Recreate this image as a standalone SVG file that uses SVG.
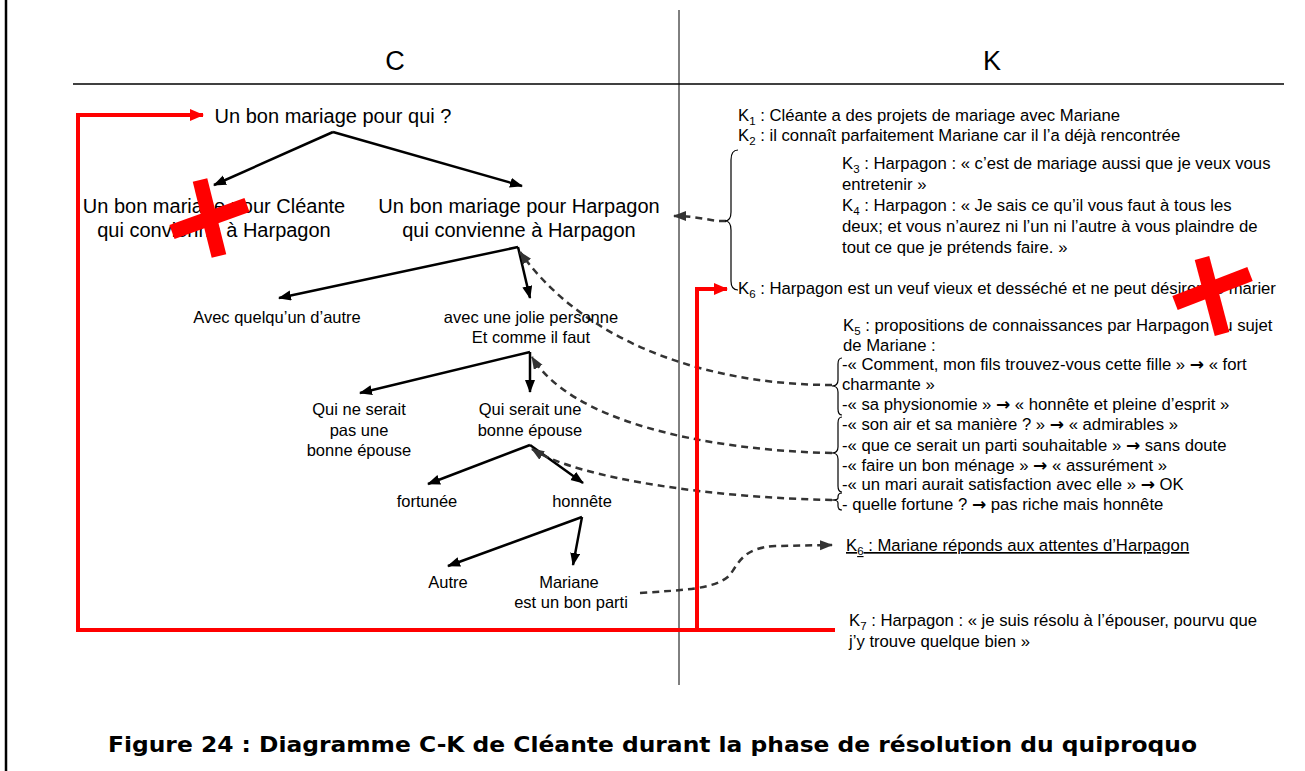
<svg xmlns="http://www.w3.org/2000/svg" width="1305" height="771" viewBox="0 0 1305 771">
<style>
  .t20{font-family:"Liberation Sans",Arial,sans-serif;font-size:20px;fill:#000}
  .t16{font-family:"Liberation Sans",Arial,sans-serif;font-size:16.5px;fill:#000}
  .k{font-family:"Liberation Sans",Arial,sans-serif;font-size:16.7px;fill:#000}
  .sub{font-size:11.5px}
  .ar{font-family:"DejaVu Sans",sans-serif;font-size:17px;font-weight:bold}
  .hdr{font-family:"Liberation Sans",Arial,sans-serif;font-size:27px;fill:#000}
  .arr{stroke:#000;stroke-width:2.5;fill:none;marker-end:url(#ab)}
  .dash{stroke:#333;stroke-width:2.5;fill:none;stroke-dasharray:7 5;marker-end:url(#ad)}
  .red{stroke:#ff0000;stroke-width:4;fill:none}
  .brace{stroke:#000;stroke-width:1.2;fill:none}
  .xbar{stroke:#ff0000;stroke-width:15;stroke-linecap:butt}
</style>
<defs>
  <marker id="ab" markerUnits="userSpaceOnUse" markerWidth="13" markerHeight="11" refX="12" refY="5" orient="auto"><path d="M0,0 L13,5 L0,10 z" fill="#000"/></marker>
  <marker id="ad" markerUnits="userSpaceOnUse" markerWidth="13" markerHeight="11" refX="12" refY="5" orient="auto"><path d="M0,0 L13,5 L0,10 z" fill="#333"/></marker>
  <marker id="ar" markerUnits="userSpaceOnUse" markerWidth="14" markerHeight="12" refX="13" refY="6" orient="auto"><path d="M0,0 L14,6 L0,12 z" fill="#ff0000"/></marker>
</defs>
<rect width="1305" height="771" fill="#fff"/>
<line x1="6" y1="0" x2="6" y2="771" stroke="#000" stroke-width="2.5"/>
<line x1="73" y1="84" x2="1284" y2="84" stroke="#000" stroke-width="1.5"/>
<line x1="679" y1="10" x2="679" y2="685" stroke="#000" stroke-width="1"/>
<text class="hdr" x="395" y="70" text-anchor="middle">C</text>
<text class="hdr" x="992" y="70" text-anchor="middle">K</text>

<g id="connectors">
  <path class="arr" d="M333,132 L214,185"/>
  <path class="arr" d="M333,132 L522,186"/>
  <path class="arr" d="M518,247 L279,298"/>
  <path class="arr" d="M518,247 L530,298"/>
  <path class="arr" d="M530,352 L360,393"/>
  <path class="arr" d="M530,352 L530,392"/>
  <path class="arr" d="M530,445 L428,484"/>
  <path class="arr" d="M530,445 L583,483"/>
  <path class="arr" d="M582,517 L448,566"/>
  <path class="arr" d="M582,517 L573,565"/>
  <path class="dash" d="M726,221 C712,222 700,216 674,216"/>
  <path class="dash" d="M832,385 C720,385 590,350 520,252"/>
  <path class="dash" d="M832,453 C700,450 570,420 532,357"/>
  <path class="dash" d="M832,500 C720,498 580,480 532,449"/>
  <path class="dash" d="M640,593 C680,590 715,590 730,575 C740,560 745,548 775,546 L832,545"/>
  <path class="red" d="M697,630 L697,289 L727,289" marker-end="url(#ar)"/>
  <path class="red" d="M835,630 L78,630 L78,115 L203,115" marker-end="url(#ar)"/>
  <path class="brace" d="M738,150 Q731,150 731,160 L731,212 Q731,221 725,221 Q731,221 731,230 L731,281 Q731,290 738,290"/>
  <path class="brace" d="M842,358 Q838,358 838,364 L838,380 Q838,386 832,386 Q838,386 838,392 L838,409 Q838,415 842,415"/>
  <path class="brace" d="M842,417 Q838,417 838,423 L838,447 Q838,453 832,453 Q838,453 838,459 L838,486 Q838,492 842,492"/>
  <path class="brace" d="M842,493 Q838,493 838,497 L838,498 Q838,500 832,500 Q838,500 838,503 L838,506 Q838,510 842,510"/>
</g>

<g id="n-root"><text class="t20" x="333" y="123" text-anchor="middle">Un bon mariage pour qui ?</text></g>
<g id="n-cleante"><text class="t20" x="214" y="213" text-anchor="middle">Un bon mariage pour Cléante</text><text class="t20" x="214" y="237" text-anchor="middle">qui convienne à Harpagon</text></g>
<g id="n-harpagon"><text class="t20" x="519" y="213" text-anchor="middle">Un bon mariage pour Harpagon</text><text class="t20" x="519" y="237" text-anchor="middle">qui convienne à Harpagon</text></g>
<g id="n-autre1"><text class="t16" x="277" y="323" text-anchor="middle">Avec quelqu’un d’autre</text></g>
<g id="n-jolie"><text class="t16" x="531" y="323" text-anchor="middle">avec une jolie personne</text><text class="t16" x="531" y="343" text-anchor="middle">Et comme il faut</text></g>
<g id="n-pasbonne"><text class="t16" x="359" y="415" text-anchor="middle">Qui ne serait</text><text class="t16" x="359" y="436" text-anchor="middle">pas une</text><text class="t16" x="359" y="456" text-anchor="middle">bonne épouse</text></g>
<g id="n-bonne"><text class="t16" x="530" y="415" text-anchor="middle">Qui serait une</text><text class="t16" x="530" y="436" text-anchor="middle">bonne épouse</text></g>
<g id="n-fortunee"><text class="t16" x="427" y="507" text-anchor="middle">fortunée</text></g>
<g id="n-honnete"><text class="t16" x="582" y="507" text-anchor="middle">honnête</text></g>
<g id="n-autre2"><text class="t16" x="448" y="588" text-anchor="middle">Autre</text></g>
<g id="n-mariane"><text class="t16" x="569" y="588" text-anchor="middle">Mariane</text><text class="t16" x="571" y="608" text-anchor="middle">est un bon parti</text></g>

<g id="k1"><text class="k" x="738" y="121">K<tspan class="sub" dy="4">1</tspan><tspan dy="-4"> : Cléante a des projets de mariage avec Mariane</tspan></text></g>
<g id="k2"><text class="k" x="738" y="141">K<tspan class="sub" dy="4">2</tspan><tspan dy="-4"> : il connaît parfaitement Mariane car il l’a déjà rencontrée</tspan></text></g>
<g id="k3"><text class="k" x="842" y="169">K<tspan class="sub" dy="4">3</tspan><tspan dy="-4"> : Harpagon : « c’est de mariage aussi que je veux vous</tspan></text><text class="k" x="842" y="190">entretenir »</text></g>
<g id="k4"><text class="k" x="842" y="211">K<tspan class="sub" dy="4">4</tspan><tspan dy="-4"> : Harpagon : « Je sais ce qu’il vous faut à tous les</tspan></text><text class="k" x="842" y="232">deux; et vous n’aurez ni l’un ni l’autre à vous plaindre de</text><text class="k" x="842" y="253">tout ce que je prétends faire. »</text></g>
<g id="k6a"><text class="k" x="738" y="294">K<tspan class="sub" dy="4">6</tspan><tspan dy="-4"> : Harpagon est un veuf vieux et desséché et ne peut désirer se marier</tspan></text></g>
<g id="k5"><text class="k" x="843" y="331">K<tspan class="sub" dy="4">5</tspan><tspan dy="-4"> : propositions de connaissances par Harpagon au sujet</tspan></text>
  <text class="k" x="843" y="351">de Mariane :</text>
  <text class="k" x="842" y="370">-« Comment, mon fils trouvez-vous cette fille » <tspan class="ar">→</tspan> « fort</text>
  <text class="k" x="842" y="390">charmante »</text>
  <text class="k" x="842" y="410">-« sa physionomie » <tspan class="ar">→</tspan> « honnête et pleine d’esprit  »</text>
  <text class="k" x="842" y="430">-« son air et sa manière ? » <tspan class="ar">→</tspan> « admirables »</text>
  <text class="k" x="842" y="451">-« que ce serait un parti souhaitable » <tspan class="ar">→</tspan> sans doute</text>
  <text class="k" x="842" y="471">-« faire un bon ménage » <tspan class="ar">→</tspan> « assurément »</text>
  <text class="k" x="842" y="490">-« un mari aurait satisfaction avec elle » <tspan class="ar">→</tspan> OK</text>
  <text class="k" x="842" y="510">- quelle fortune ? <tspan class="ar">→</tspan> pas riche mais honnête</text></g>
<g id="k6b"><text class="k" x="846" y="551" text-decoration="underline">K<tspan class="sub" dy="4">6</tspan><tspan dy="-4"> : Mariane réponds aux attentes d’Harpagon</tspan></text></g>
<g id="k7"><text class="k" x="849" y="626">K<tspan class="sub" dy="4">7</tspan><tspan dy="-4"> : Harpagon : « je suis résolu à l’épouser, pourvu que</tspan></text><text class="k" x="849" y="647">j’y trouve quelque bien »</text></g>

<g id="cross1"><line class="xbar" x1="200" y1="180" x2="219" y2="256"/><line class="xbar" x1="172" y1="232" x2="247" y2="205"/></g>
<g id="cross2"><line class="xbar" x1="1202" y1="258" x2="1222" y2="334"/><line class="xbar" x1="1175" y1="303" x2="1250" y2="274"/></g>

<text x="652.5" y="752" text-anchor="middle" font-family="'DejaVu Sans',sans-serif" font-weight="bold" font-size="21" textLength="1089" lengthAdjust="spacingAndGlyphs">Figure 24 : Diagramme C-K de Cléante durant la phase de résolution du quiproquo</text>
</svg>
